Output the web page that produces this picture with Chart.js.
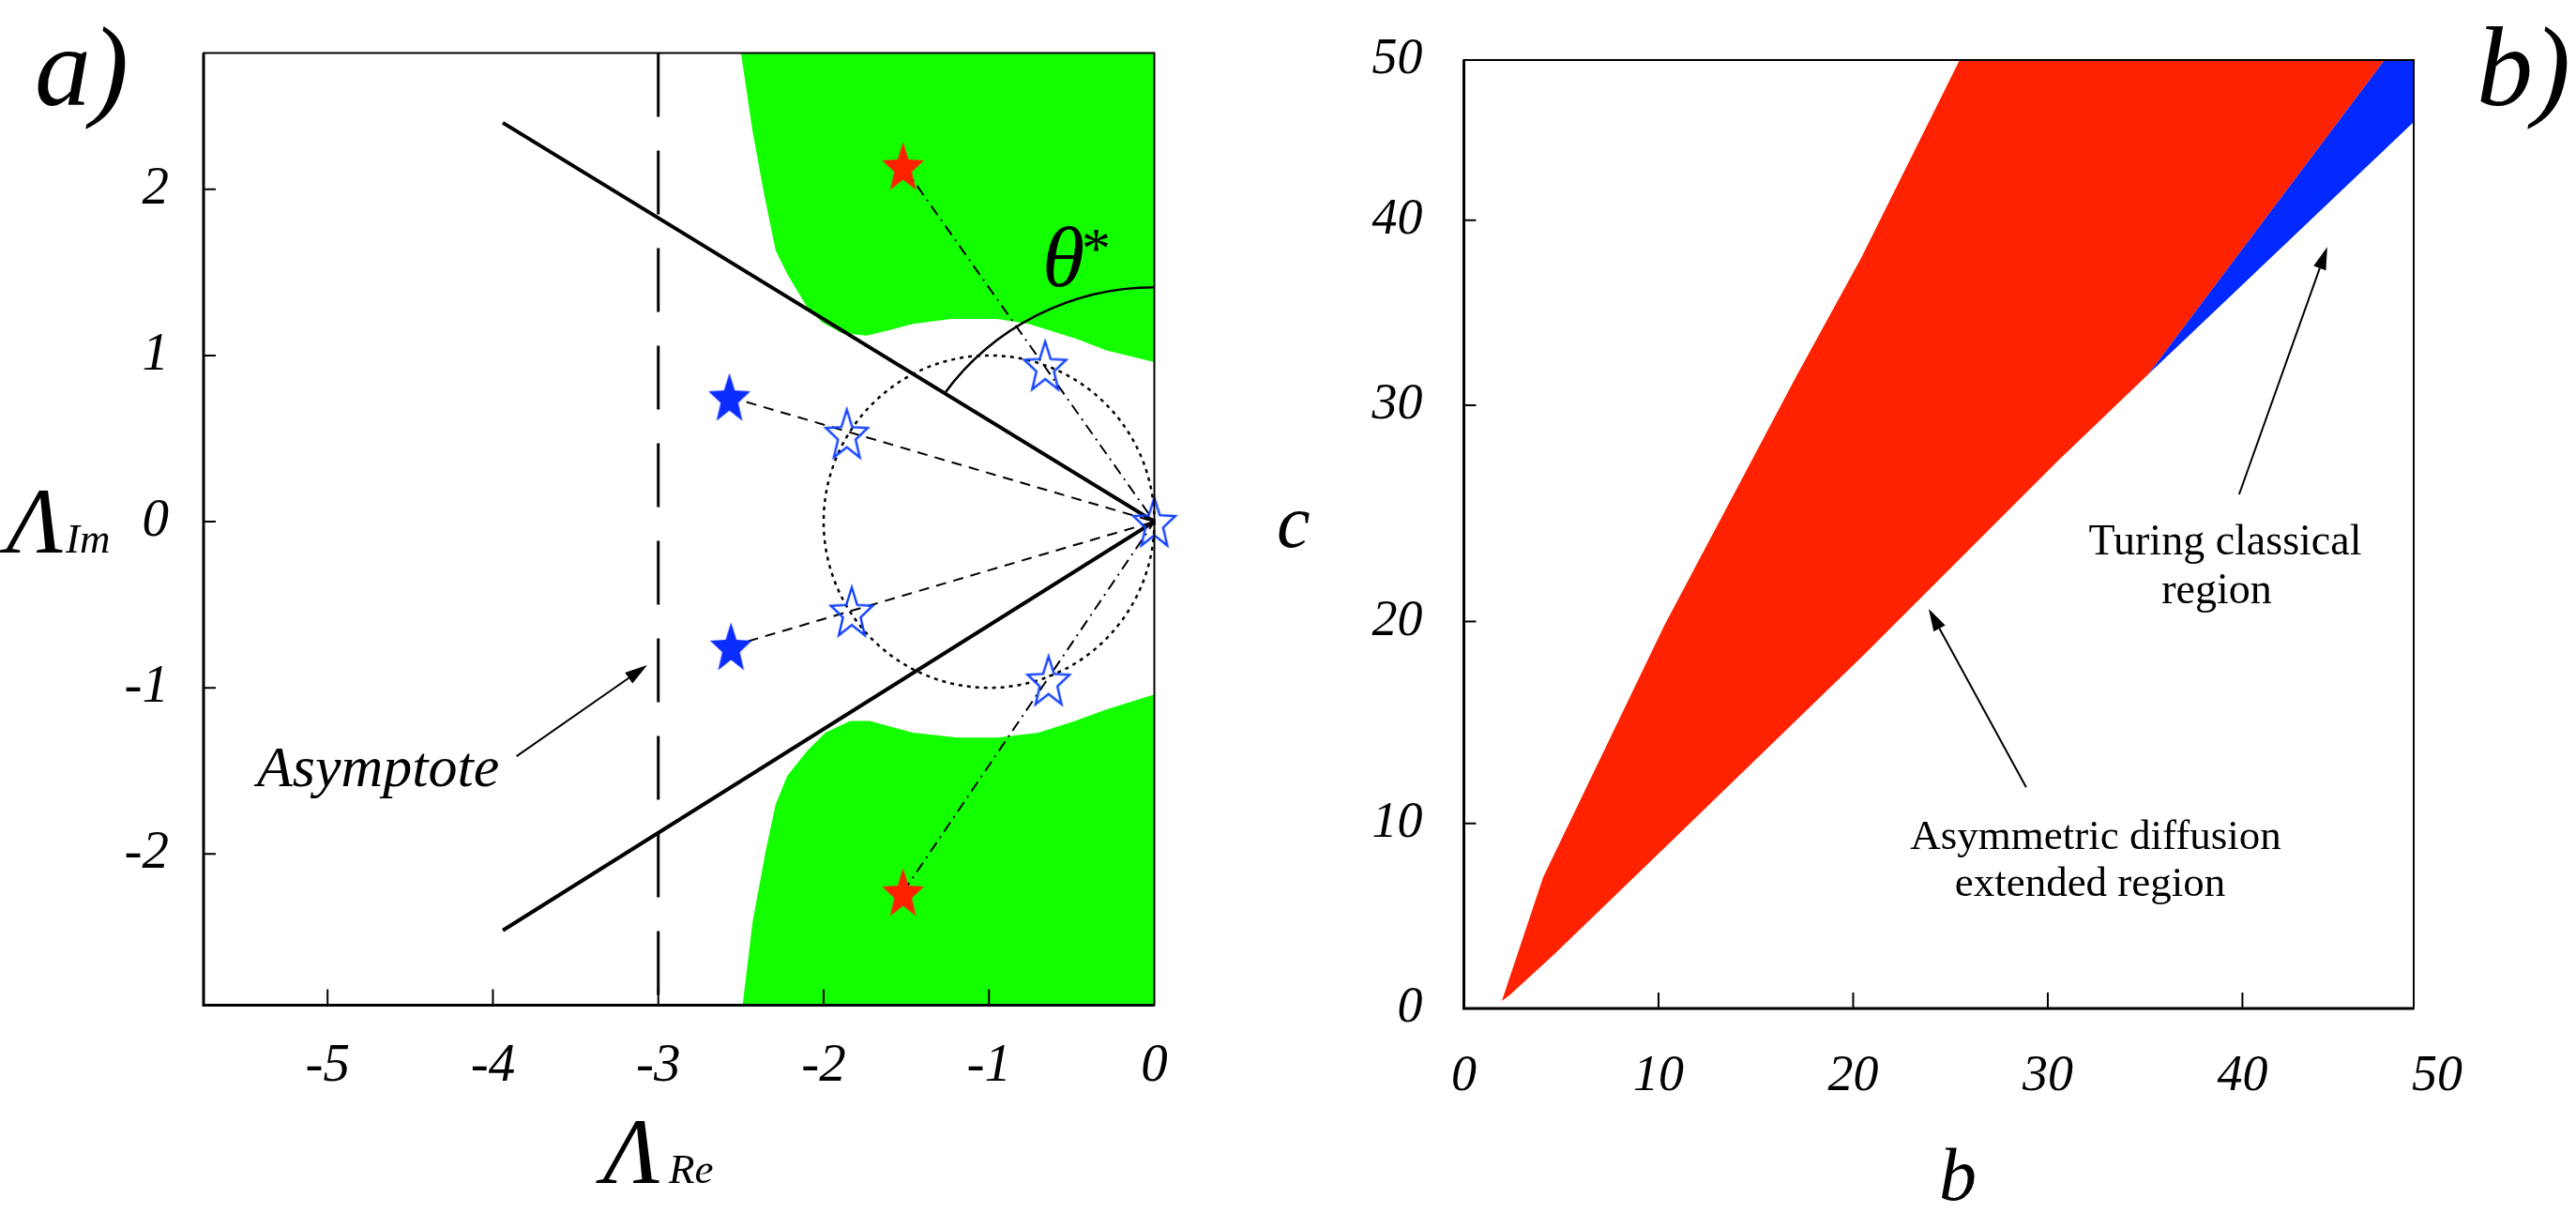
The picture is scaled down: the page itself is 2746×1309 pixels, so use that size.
<!DOCTYPE html>
<html>
<head>
<meta charset="utf-8">
<script src="https://cdn.jsdelivr.net/npm/chart.js@4.4.1/dist/chart.umd.min.js"></script>
<style>
html,body{margin:0;padding:0;background:#fff;width:2746px;height:1309px;overflow:hidden}
#ca{position:absolute;left:0;top:0;width:1340px;height:1309px}
#cb{position:absolute;left:1340px;top:0;width:1406px;height:1309px}
</style>
</head>
<body>
<canvas id="ca" width="1340" height="1309"></canvas>
<canvas id="cb" width="1406" height="1309"></canvas>
<script>
// ---------------- Panel a) : complex plane (Λ_Re, Λ_Im) ----------------
const aXRange = [-5.75, 0];
const aYRange = [-2.91, 2.82];
const aXTicks = [-5, -4, -3, -2, -1, 0];
const aXTickLabels = ['-5', '-4', '-3', '-2', '-1', '0'];
const aYTicks = [-2, -1, 0, 1, 2];
const aYTickLabels = ['-2', '-1', '0', '1', '2'];

const greenUpperRe = [-2.50, -2.43, -2.36, -2.29, -2.22, -2.10, -2.01, -1.89, -1.74, -1.61, -1.46, -1.23, -0.95, -0.76, -0.47, -0.29, 0.00, 0.00, -2.50];
const greenUpperIm = [ 2.82,  2.35,  1.97,  1.63,  1.49,  1.29,  1.20,  1.135, 1.12,  1.15,  1.19,  1.22,  1.22,  1.19,  1.10,  1.03, 0.96, 2.82,  2.82];
const greenLowerRe = [-2.49, -2.43, -2.35, -2.29, -2.22, -2.10, -1.99, -1.84, -1.72, -1.57, -1.46, -1.19, -0.95, -0.70, -0.48, -0.29, 0.00, 0.00, -2.49];
const greenLowerIm = [-2.91, -2.41, -1.98, -1.70, -1.53, -1.38, -1.27, -1.20, -1.20, -1.24, -1.27, -1.30, -1.30, -1.27, -1.20, -1.13, -1.04, -2.91, -2.91];

const wedgeUpperRe = [-3.94, 0];
const wedgeUpperIm = [2.40, 0];
const wedgeLowerRe = [-3.94, 0];
const wedgeLowerIm = [-2.46, 0];
const asymptoteRe = -3;
const origin = [0, 0];

const redStarsRe = [-1.52, -1.52];
const redStarsIm = [2.14, -2.23];
const blueStarsRe = [-2.57, -2.56];
const blueStarsIm = [0.75, -0.75];
const hollowStarsRe = [-1.86, -1.83, -0.66, -0.64, 0];
const hollowStarsIm = [0.53, -0.54, 0.94, -0.955, 0];

const circleCenter = [-1, 0];
const circleRadius = 1;
const thetaArcCenter = [0, -0.17];
const thetaArcRadius = 1.58;
const thetaArcDegrees = [90, 143.5];

const asymArrowRe = [-3.857, -3.067];
const asymArrowIm = [-1.412, -0.864];

// ---------------- Panel b) : (b, c) parameter plane ----------------
const bXRange = [0, 48.8];
const bYRange = [0, 50];
const bXTicks = [0, 10, 20, 30, 40, 50];
const bXTickLabels = ['0', '10', '20', '30', '40', '50'];
const bYTicks = [0, 10, 20, 30, 40, 50];
const bYTickLabels = ['0', '10', '20', '30', '40', '50'];

const redB = [1.95, 4.07, 10.29, 17.08, 20.41, 25.47, 47.30, 35.16, 30.53, 20.65, 10.72, 4.60, 2.34, 1.95];
const redC = [0.40, 7.09, 19.79, 31.57, 37.96, 50.00, 50.00, 31.67, 27.44, 18.44,  9.11, 2.89, 0.71, 0.40];
const blueB = [35.16, 47.30, 48.80, 48.80, 35.16];
const blueC = [31.67, 50.00, 50.00, 46.14, 31.67];

const turingArrowB = [39.83, 44.36];
const turingArrowC = [25.88, 38.56];
const asymArrowB = [28.89, 23.88];
const asymArrowC = [11.79, 20.59];

// ---------------- helpers ----------------
const pts = (xs, ys) => xs.map((x, i) => ({x: x, y: ys[i]}));
const SERIF = '"Liberation Serif", "Times New Roman", serif';

function makeStar(fill, stroke, lw) {
  const c = document.createElement('canvas');
  c.width = 56; c.height = 64;
  const g = c.getContext('2d');
  const R = 23.5, sy = 1.2, inner = 0.42;
  const cx = 28, cy = 32 + 0.0955 * R * sy;
  g.beginPath();
  for (let k = 0; k < 10; k++) {
    const r = (k % 2) ? R * inner : R;
    const ang = -Math.PI / 2 + k * Math.PI / 5;
    const px = cx + r * Math.cos(ang), py = cy + r * Math.sin(ang) * sy;
    if (k === 0) g.moveTo(px, py); else g.lineTo(px, py);
  }
  g.closePath();
  if (fill) { g.fillStyle = fill; g.fill(); }
  if (stroke) { g.strokeStyle = stroke; g.lineWidth = lw; g.lineJoin = 'miter'; g.stroke(); }
  return c;
}
const redStar = makeStar('#ff2200');
const blueStar = makeStar('#0a2cff');
const hollowStar = makeStar(null, '#1040ff', 2.4);

function text(ctx, s, x, y, size, italic, align) {
  ctx.font = (italic ? 'italic ' : '') + size + 'px ' + SERIF;
  ctx.textAlign = align || 'left';
  ctx.textBaseline = 'alphabetic';
  ctx.fillStyle = '#000';
  ctx.fillText(s, x, y);
}
function arrow(ctx, x0, y0, x1, y1) {
  const ang = Math.atan2(y1 - y0, x1 - x0);
  const L = 24, W = 7;
  const bx = x1 - L * Math.cos(ang), by = y1 - L * Math.sin(ang);
  ctx.save();
  ctx.strokeStyle = '#000'; ctx.fillStyle = '#000'; ctx.lineWidth = 2; ctx.setLineDash([]);
  ctx.beginPath(); ctx.moveTo(x0, y0); ctx.lineTo(bx, by); ctx.stroke();
  ctx.beginPath();
  ctx.moveTo(x1, y1);
  ctx.lineTo(bx + W * Math.sin(ang), by - W * Math.cos(ang));
  ctx.lineTo(bx - W * Math.sin(ang), by + W * Math.cos(ang));
  ctx.closePath(); ctx.fill();
  ctx.restore();
}

// frame + inward tick marks, drawn through the chart's scales
const frameTicks = {
  id: 'frameTicks',
  afterDraw(chart) {
    const {ctx, chartArea: a, scales} = chart;
    ctx.save();
    ctx.strokeStyle = '#000';
    ctx.setLineDash([]);
    ctx.lineWidth = 2;
    ctx.strokeRect(a.left, a.top, a.right - a.left, a.bottom - a.top);
    ctx.lineWidth = 3;
    ctx.beginPath(); ctx.moveTo(a.left, a.top); ctx.lineTo(a.left, a.bottom); ctx.lineTo(a.right, a.bottom); ctx.stroke();
    ctx.lineWidth = 2;
    ctx.beginPath();
    for (const t of scales.y.ticks) {
      const p = scales.y.getPixelForValue(t.value);
      if (p > a.top + 2 && p < a.bottom - 2) { ctx.moveTo(a.left, p); ctx.lineTo(a.left + 13, p); }
    }
    for (const t of scales.x.ticks) {
      const p = scales.x.getPixelForValue(t.value);
      if (p > a.left + 2 && p < a.right - 2) { ctx.moveTo(p, a.bottom); ctx.lineTo(p, a.bottom - 17); }
    }
    ctx.stroke();
    ctx.restore();
  }
};

// warped linear scale (the printed c axis is not evenly spaced)
const LinearScale = Chart.LinearScale || Chart.registry.getScale('linear');
class WarpedLinearScale extends LinearScale {
  _warp(v) {
    const vals = this.options.warpValues, fr = this.options.warpFractions;
    if (!vals || !fr) return (v - this.min) / (this.max - this.min);
    const n = vals.length - 1;
    let i = 1;
    while (i < n && v > vals[i]) i++;
    const t = (v - vals[i - 1]) / (vals[i] - vals[i - 1]);
    return fr[i - 1] + t * (fr[i] - fr[i - 1]);
  }
  getPixelForValue(value) {
    if (value === null || value === undefined || isNaN(value)) return NaN;
    return this.getPixelForDecimal(this._warp(value));
  }
  getValueForPixel(pixel) {
    const d = this.getDecimalForPixel(pixel);
    const vals = this.options.warpValues, fr = this.options.warpFractions;
    if (!vals || !fr) return this.min + d * (this.max - this.min);
    const n = vals.length - 1;
    let i = 1;
    while (i < n && d > fr[i]) i++;
    const t = (d - fr[i - 1]) / (fr[i] - fr[i - 1]);
    return vals[i - 1] + t * (vals[i] - vals[i - 1]);
  }
}
WarpedLinearScale.id = 'warpedLinear';
Chart.registry.addScales(WarpedLinearScale);

const tickFont = (size) => ({family: SERIF, style: 'italic', size: size, lineHeight: 1.2});
const fitX = s => { s.height = 100; s.paddingLeft = 0; s.paddingRight = 0; };
const fitY = s => { s.width = 100; s.paddingTop = 0; s.paddingBottom = 0; };

// ---------------- Chart a) ----------------
const lineDs = (data, width, dash, order) => ({
  data: data, borderColor: '#000', borderWidth: width, borderDash: dash || [],
  pointRadius: 0, fill: false, tension: 0, order: order, borderCapStyle: 'butt'
});

const circlePlugin = {
  id: 'circleArc',
  afterDatasetDraw(chart, args) {
    if (args.index !== 10) return;
    const ctx = chart.ctx, xs = chart.scales.x, ys = chart.scales.y;
    ctx.save();
    ctx.strokeStyle = '#000';
    let cx = xs.getPixelForValue(circleCenter[0]), cy = ys.getPixelForValue(circleCenter[1]);
    let rx = Math.abs(xs.getPixelForValue(circleCenter[0] + circleRadius) - cx);
    let ry = Math.abs(ys.getPixelForValue(circleCenter[1] + circleRadius) - cy);
    ctx.lineWidth = 2.5; ctx.setLineDash([4, 5]);
    ctx.beginPath(); ctx.ellipse(cx, cy, rx, ry, 0, 0, 2 * Math.PI); ctx.stroke();
    cx = xs.getPixelForValue(thetaArcCenter[0]); cy = ys.getPixelForValue(thetaArcCenter[1]);
    rx = Math.abs(xs.getPixelForValue(thetaArcCenter[0] + thetaArcRadius) - cx);
    ry = Math.abs(ys.getPixelForValue(thetaArcCenter[1] + thetaArcRadius) - cy);
    ctx.lineWidth = 2.5; ctx.setLineDash([]);
    ctx.beginPath();
    ctx.ellipse(cx, cy, rx, ry, 0, -thetaArcDegrees[1] * Math.PI / 180, -thetaArcDegrees[0] * Math.PI / 180, false);
    ctx.stroke();
    ctx.restore();
  }
};

const annotA = {
  id: 'annotA',
  afterDraw(chart) {
    const ctx = chart.ctx, xs = chart.scales.x, ys = chart.scales.y;
    ctx.save();
    text(ctx, 'a)', 37, 112, 120, true);
    text(ctx, 'Λ', 7, 589, 100, true);
    text(ctx, 'Im', 70, 589, 45, true);
    text(ctx, 'Λ', 643, 1261, 100, true);
    text(ctx, 'Re', 713, 1261, 45, true);
    text(ctx, 'θ', 1111, 305, 92, true);
    text(ctx, '*', 1153, 285, 62, false);
    text(ctx, 'Asymptote', 274, 838, 62, true);
    arrow(ctx, xs.getPixelForValue(asymArrowRe[0]), ys.getPixelForValue(asymArrowIm[0]),
               xs.getPixelForValue(asymArrowRe[1]), ys.getPixelForValue(asymArrowIm[1]));
    ctx.restore();
  }
};

const datasetsA = [
  {data: pts(hollowStarsRe, hollowStarsIm), showLine: false, pointStyle: hollowStar, pointRadius: 22, pointHoverRadius: 22, clip: false, order: 0},
  {data: pts(redStarsRe, redStarsIm), showLine: false, pointStyle: redStar, pointRadius: 22, pointHoverRadius: 22, clip: false, order: 0},
  {data: pts(blueStarsRe, blueStarsIm), showLine: false, pointStyle: blueStar, pointRadius: 22, pointHoverRadius: 22, clip: false, order: 0},
  lineDs([{x: blueStarsRe[0], y: blueStarsIm[0]}, {x: origin[0], y: origin[1]}], 2, [11, 8], 1),
  lineDs([{x: blueStarsRe[1], y: blueStarsIm[1]}, {x: origin[0], y: origin[1]}], 2, [11, 8], 1),
  lineDs([{x: redStarsRe[0], y: redStarsIm[0]}, {x: origin[0], y: origin[1]}], 2, [12, 6, 2, 6], 1),
  lineDs([{x: redStarsRe[1], y: redStarsIm[1]}, {x: origin[0], y: origin[1]}], 2, [12, 6, 2, 6], 1),
  lineDs(pts(wedgeUpperRe, wedgeUpperIm), 4, [], 1),
  lineDs(pts(wedgeLowerRe, wedgeLowerIm), 4, [], 1),
  lineDs([{x: asymptoteRe, y: aYRange[1]}, {x: asymptoteRe, y: aYRange[0]}], 3, [68, 36], 1),
  {data: pts(greenLowerRe, greenLowerIm), fill: 'shape', backgroundColor: '#13ff00', borderColor: 'rgba(0,0,0,0)', borderWidth: 1, pointRadius: 0, tension: 0, order: 3},
  {data: pts(greenUpperRe, greenUpperIm), fill: 'shape', backgroundColor: '#13ff00', borderColor: 'rgba(0,0,0,0)', borderWidth: 1, pointRadius: 0, tension: 0, order: 4}
];

new Chart(document.getElementById('ca'), {
  type: 'line',
  data: {datasets: datasetsA},
  options: {
    responsive: false, animation: false, devicePixelRatio: 1, events: [],
    layout: {padding: {left: 117, right: 109.5, top: 56.5, bottom: 137.5}},
    plugins: {legend: {display: false}, tooltip: {enabled: false}},
    scales: {
      x: {
        type: 'linear', min: aXRange[0], max: aXRange[1],
        afterBuildTicks: s => { s.ticks = aXTicks.map(v => ({value: v})); },
        afterFit: fitX,
        grid: {display: false, drawTicks: false}, border: {display: false},
        ticks: {padding: 31, color: '#000', font: tickFont(57), autoSkip: false, maxRotation: 0,
                callback: (v, i) => aXTickLabels[i]}
      },
      y: {
        type: 'linear', min: aYRange[0], max: aYRange[1],
        afterBuildTicks: s => { s.ticks = aYTicks.map(v => ({value: v})); },
        afterFit: fitY,
        grid: {display: false, drawTicks: false}, border: {display: false},
        ticks: {padding: 37, color: '#000', font: tickFont(57), autoSkip: false,
                callback: (v, i) => aYTickLabels[i]}
      }
    }
  },
  plugins: [circlePlugin, frameTicks, annotA]
});

// ---------------- Chart b) ----------------
const annotB = {
  id: 'annotB',
  afterDraw(chart) {
    const ctx = chart.ctx, xs = chart.scales.x, ys = chart.scales.y;
    ctx.save();
    text(ctx, 'b)', 1300, 112, 120, true);
    text(ctx, 'c', 21, 583, 80, true);
    text(ctx, 'b', 747, 1279, 80, true, 'center');
    text(ctx, 'Turing classical', 1032, 591, 46, false, 'center');
    text(ctx, 'region', 1023, 643, 46, false, 'center');
    text(ctx, 'Asymmetric diffusion', 894, 905, 45, false, 'center');
    text(ctx, 'extended region', 888, 955, 45, false, 'center');
    arrow(ctx, xs.getPixelForValue(turingArrowB[0]), ys.getPixelForValue(turingArrowC[0]),
               xs.getPixelForValue(turingArrowB[1]), ys.getPixelForValue(turingArrowC[1]));
    arrow(ctx, xs.getPixelForValue(asymArrowB[0]), ys.getPixelForValue(asymArrowC[0]),
               xs.getPixelForValue(asymArrowB[1]), ys.getPixelForValue(asymArrowC[1]));
    ctx.restore();
  }
};

new Chart(document.getElementById('cb'), {
  type: 'line',
  data: {datasets: [
    {data: pts(blueB, blueC), fill: 'shape', backgroundColor: '#0028ff', borderColor: 'rgba(0,0,0,0)', borderWidth: 1, pointRadius: 0, tension: 0, order: 1},
    {data: pts(redB, redC), fill: 'shape', backgroundColor: '#ff2200', borderColor: 'rgba(0,0,0,0)', borderWidth: 1, pointRadius: 0, tension: 0, order: 2}
  ]},
  options: {
    responsive: false, animation: false, devicePixelRatio: 1, events: [],
    layout: {padding: {left: 120.5, right: 173, top: 64, bottom: 134}},
    plugins: {legend: {display: false}, tooltip: {enabled: false}},
    scales: {
      x: {
        type: 'linear', min: bXRange[0], max: bXRange[1],
        afterBuildTicks: s => { s.ticks = bXTicks.map(v => ({value: v})); },
        afterFit: fitX,
        grid: {display: false, drawTicks: false}, border: {display: false},
        ticks: {padding: 40, color: '#000', font: tickFont(54), autoSkip: false, maxRotation: 0,
                callback: (v, i) => bXTickLabels[i]}
      },
      y: {
        type: 'warpedLinear', min: bYRange[0], max: bYRange[1],
        warpValues: [0, 10, 20, 30, 40, 50],
        warpFractions: [0, 0.195, 0.408, 0.636, 0.831, 1],
        afterBuildTicks: s => { s.ticks = bYTicks.map(v => ({value: v})); },
        afterFit: fitY,
        grid: {display: false, drawTicks: false}, border: {display: false},
        ticks: {padding: 44, color: '#000', font: tickFont(54), autoSkip: false,
                callback: (v, i) => bYTickLabels[i]}
      }
    }
  },
  plugins: [frameTicks, annotB]
});
</script>
</body>
</html>
